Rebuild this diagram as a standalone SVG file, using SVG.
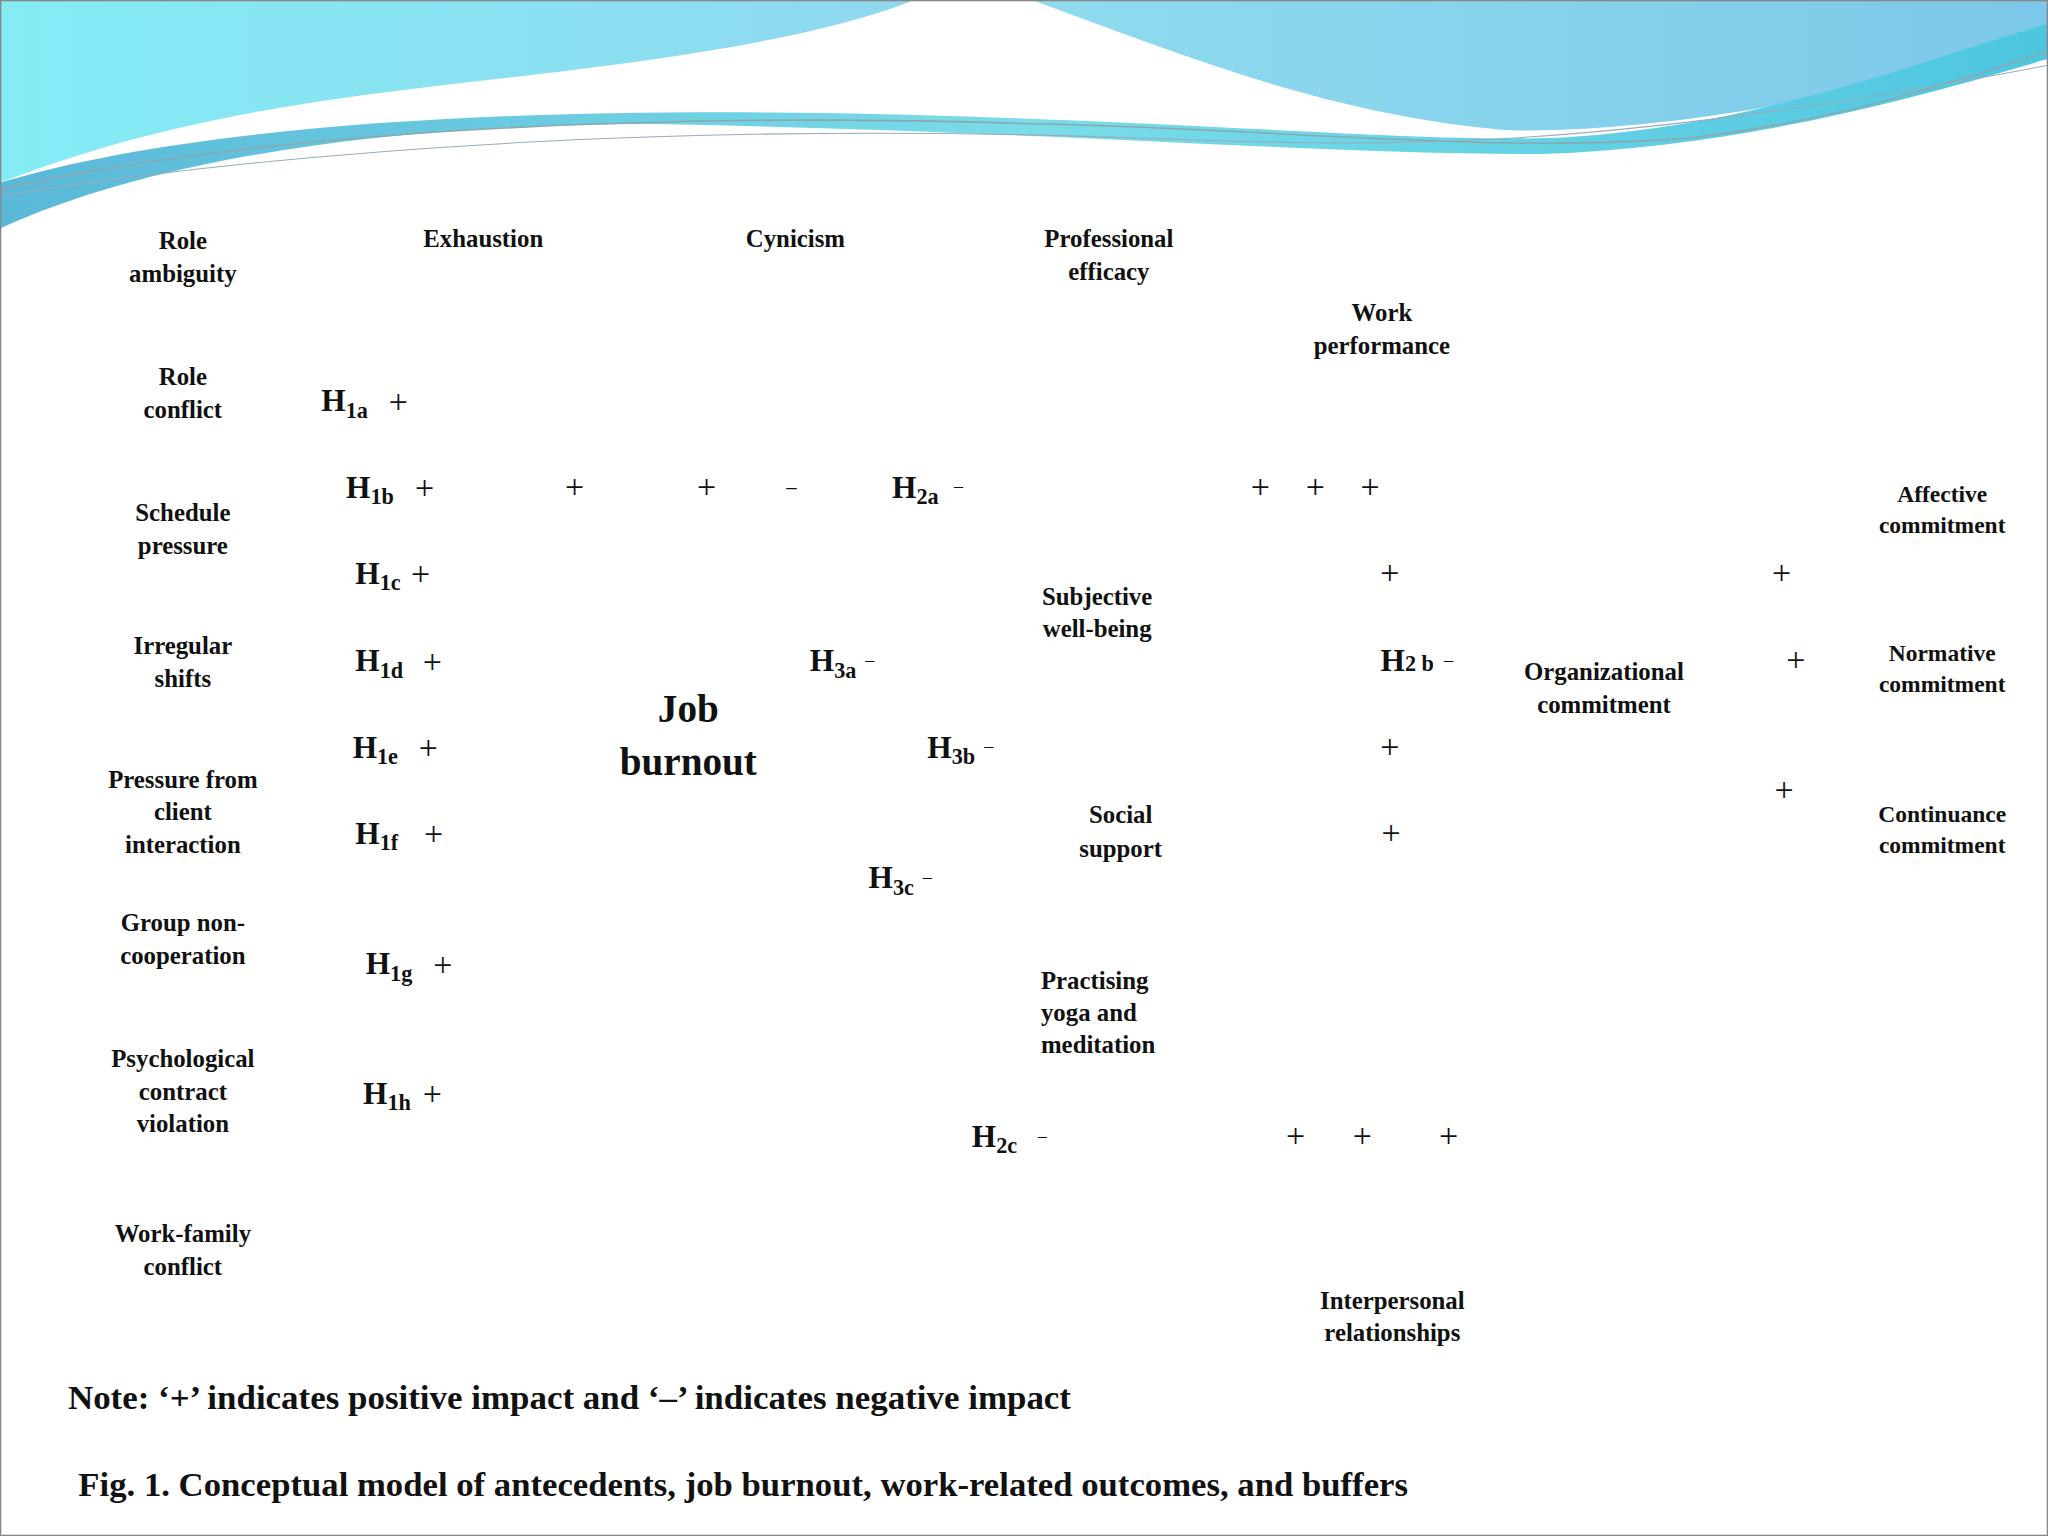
<svg xmlns="http://www.w3.org/2000/svg" width="2048" height="1536" viewBox="0 0 2048 1536">
<defs>
<linearGradient id="g1" x1="0" y1="0" x2="1" y2="0"><stop offset="0" stop-color="#84ecf4"/><stop offset="1" stop-color="#8fd8ee"/></linearGradient>
<linearGradient id="g2" x1="0" y1="0" x2="1" y2="0"><stop offset="0" stop-color="#8fdcef"/><stop offset="1" stop-color="#7cc8e8"/></linearGradient>
<linearGradient id="g3" x1="0" y1="0" x2="1" y2="0"><stop offset="0" stop-color="#5ab8d8"/><stop offset="0.5" stop-color="#7adce8"/><stop offset="1" stop-color="#4ec6e0"/></linearGradient>
</defs>
<style>
text{font-family:"Liberation Serif","Times New Roman",serif;font-weight:bold;fill:#111}
.n{font-size:19px;text-anchor:middle}
.h{font-size:24px}
.s{font-size:17px}
.p{font-size:26px;font-weight:normal;text-anchor:middle}
</style>
<rect width="2048" height="1536" fill="#fff"/>
<g transform="scale(1.30612)">
<g id="header">
<path d="M0,0 H700 C600,40 420,55 300,70 C180,85 90,105 0,140 Z" fill="url(#g1)"/>
<path d="M790,0 H1568 V28 C1420,75 1280,100 1160,100 C1020,90 900,40 790,0 Z" fill="url(#g2)"/>
<path d="M0,140 C150,95 400,80 700,88 C950,95 1100,110 1200,105 C1350,95 1460,50 1568,18 V45 C1450,80 1330,112 1180,118 C1000,118 800,100 500,95 C300,95 120,120 0,175 Z" fill="url(#g3)"/>
<path d="M0,145 C200,100 500,85 800,95 C1000,100 1150,118 1300,105 C1420,90 1500,60 1568,40" fill="none" stroke="#8aa8b0" stroke-width="1.2"/>
<path d="M0,150 C250,110 550,95 850,105 C1050,112 1200,120 1568,50" fill="none" stroke="#9ab" stroke-width="0.8"/>
</g>
<rect x="0.5" y="0.5" width="1567" height="1175" fill="none" stroke="#888" stroke-width="1"/>
<g id="antecedents">
<text class="n" x="140" y="191">Role<tspan x="140" dy="25">ambiguity</tspan></text>
<text class="n" x="140" y="295">Role<tspan x="140" dy="25">conflict</tspan></text>
<text class="n" x="140" y="399">Schedule<tspan x="140" dy="25">pressure</tspan></text>
<text class="n" x="140" y="501">Irregular<tspan x="140" dy="25">shifts</tspan></text>
<text class="n" x="140" y="603">Pressure from<tspan x="140" dy="25">client</tspan><tspan x="140" dy="25">interaction</tspan></text>
<text class="n" x="140" y="713">Group non-<tspan x="140" dy="25">cooperation</tspan></text>
<text class="n" x="140" y="817">Psychological<tspan x="140" dy="25">contract</tspan><tspan x="140" dy="25">violation</tspan></text>
<text class="n" x="140" y="951">Work-family<tspan x="140" dy="25">conflict</tspan></text>
</g>
<g id="burnout">
<text class="n" x="370" y="189">Exhaustion</text>
<text class="n" x="609" y="189">Cynicism</text>
<text class="n" x="849" y="189">Professional<tspan x="849" dy="25">efficacy</tspan></text>
<text class="n" x="527" y="553" style="font-size:30px">Job<tspan x="527" dy="40">burnout</tspan></text>
</g>
<g id="outcomes">
<text class="n" x="1058" y="246">Work<tspan x="1058" dy="25">performance</tspan></text>
<text class="n" x="1228" y="521">Organizational<tspan x="1228" dy="25">commitment</tspan></text>
<text class="n" x="1066" y="1002">Interpersonal<tspan x="1066" dy="25">relationships</tspan></text>
<text class="n" x="1487" y="384" style="font-size:18px">Affective<tspan x="1487" dy="24">commitment</tspan></text>
<text class="n" x="1487" y="506" style="font-size:18px">Normative<tspan x="1487" dy="24">commitment</tspan></text>
<text class="n" x="1487" y="629" style="font-size:18px">Continuance<tspan x="1487" dy="24">commitment</tspan></text>
</g>
<g id="buffers">
<text class="n" x="840" y="463">Subjective<tspan x="840" dy="25">well-being</tspan></text>
<text class="n" x="858" y="630">Social<tspan x="858" dy="26">support</tspan></text>
<text x="797" y="757" style="font-size:19px">Practising<tspan x="797" dy="25">yoga and</tspan><tspan x="797" dy="24">meditation</tspan></text>
</g>
<g id="hypotheses">
<text class="h" x="246" y="315">H<tspan class="s" dy="5">1a</tspan></text>
<text class="h" x="265" y="381">H<tspan class="s" dy="5">1b</tspan></text>
<text class="h" x="272" y="447">H<tspan class="s" dy="5">1c</tspan></text>
<text class="h" x="272" y="514">H<tspan class="s" dy="5">1d</tspan></text>
<text class="h" x="270" y="580">H<tspan class="s" dy="5">1e</tspan></text>
<text class="h" x="272" y="646">H<tspan class="s" dy="5">1f</tspan></text>
<text class="h" x="280" y="746">H<tspan class="s" dy="5">1g</tspan></text>
<text class="h" x="278" y="845">H<tspan class="s" dy="5">1h</tspan></text>
<text class="h" x="683" y="381">H<tspan class="s" dy="5">2a</tspan></text>
<text class="h" x="620" y="514">H<tspan class="s" dy="5">3a</tspan></text>
<text class="h" x="710" y="580">H<tspan class="s" dy="5">3b</tspan></text>
<text class="h" x="665" y="680">H<tspan class="s" dy="5">3c</tspan></text>
<text class="h" x="1057" y="514">H<tspan class="s">2 b</tspan></text>
<text class="h" x="744" y="878">H<tspan class="s" dy="5">2c</tspan></text>
</g>
<g id="signs">
<text class="p" x="305" y="316">+</text><text class="p" x="325" y="382">+</text><text class="p" x="322" y="448">+</text>
<text class="p" x="331" y="515">+</text><text class="p" x="328" y="581">+</text><text class="p" x="332" y="647">+</text>
<text class="p" x="339" y="747">+</text><text class="p" x="331" y="846">+</text>
<text class="p" x="440" y="381">+</text><text class="p" x="541" y="381">+</text><text class="p" x="606" y="378" style="font-size:16px">–</text>
<text class="p" x="734" y="377" style="font-size:14px">–</text><text class="p" x="666" y="510" style="font-size:14px">–</text>
<text class="p" x="757" y="576" style="font-size:14px">–</text><text class="p" x="710" y="676" style="font-size:14px">–</text>
<text class="p" x="1109" y="510" style="font-size:14px">–</text><text class="p" x="798" y="874" style="font-size:14px">–</text>
<text class="p" x="965" y="381">+</text><text class="p" x="1007" y="381">+</text><text class="p" x="1049" y="381">+</text>
<text class="p" x="1064" y="447">+</text><text class="p" x="1064" y="580">+</text><text class="p" x="1065" y="646">+</text>
<text class="p" x="1364" y="447">+</text><text class="p" x="1375" y="514">+</text><text class="p" x="1366" y="613">+</text>
<text class="p" x="992" y="878">+</text><text class="p" x="1043" y="878">+</text><text class="p" x="1109" y="878">+</text>
</g>
<g id="captions">
<text x="52" y="1079" style="font-size:26px" textLength="768" lengthAdjust="spacingAndGlyphs">Note: ‘+’ indicates positive impact and ‘–’ indicates negative impact</text>
<text x="60" y="1145" style="font-size:26px" textLength="1018" lengthAdjust="spacingAndGlyphs">Fig. 1. Conceptual model of antecedents, job burnout, work-related outcomes, and buffers</text>
</g>
</g>
</svg>
